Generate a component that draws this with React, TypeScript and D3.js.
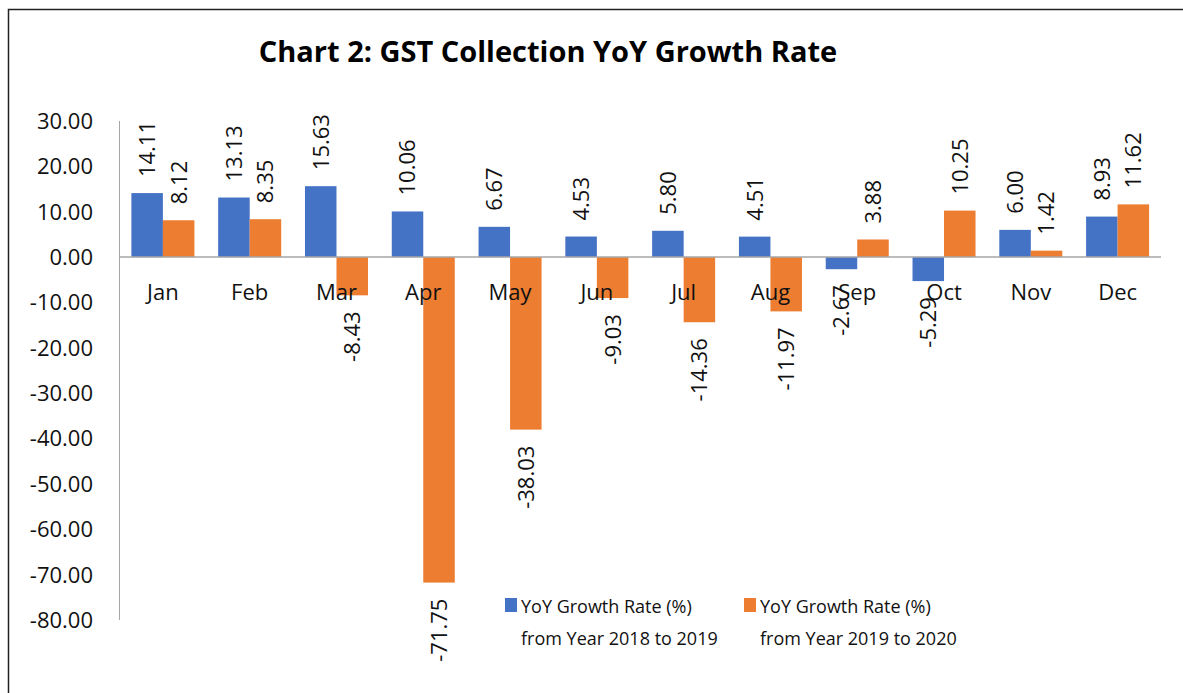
import React, { useEffect, useRef } from "react";
import * as d3 from "d3";

const months = ["Jan", "Feb", "Mar", "Apr", "May", "Jun", "Jul", "Aug", "Sep", "Oct", "Nov", "Dec"];
const growth2018to2019 = [14.11, 13.13, 15.63, 10.06, 6.67, 4.53, 5.8, 4.51, -2.67, -5.29, 6.0, 8.93];
const growth2019to2020 = [8.12, 8.35, -8.43, -71.75, -38.03, -9.03, -14.36, -11.97, 3.88, 10.25, 1.42, 11.62];
const yTicks = [30, 20, 10, 0, -10, -20, -30, -40, -50, -60, -70, -80];
const seriesNames = [
  ["YoY Growth Rate (%)", "from Year 2018 to 2019"],
  ["YoY Growth Rate (%)", "from Year 2019 to 2020"],
];
const seriesColors = ["#4472C4", "#ED7D31"];

const FONT = "'Open Sans', 'Noto Sans', sans-serif";

// plain hyphen minus, like the source
const fmt = (v: number) => v.toFixed(2);

const App = () => {
  const container = useRef<SVGSVGElement | null>(null);

  useEffect(() => {
    drawChart();
  });

  const drawChart = () => {
    const width = 1183;
    const height = 693;
    const plot = { l: 119.5, r: 1161, t: 121, b: 620 };
    const labelGap = 16;

    const svg = d3.select(container.current).attr("width", width).attr("height", height);
    svg.selectAll("*").remove();

    // outer frame (runs off the right/bottom edge in the reference)
    svg
      .append("rect")
      .attr("x", 8.5)
      .attr("y", 9.5)
      .attr("width", width + 20)
      .attr("height", height + 20)
      .attr("fill", "white")
      .attr("stroke", "#222")
      .attr("stroke-width", 1.5);

    svg
      .append("text")
      .attr("x", 548)
      .attr("y", 62)
      .attr("text-anchor", "middle")
      .style("font-family", FONT)
      .style("font-weight", "bold")
      .style("font-size", "29px")
      .text("Chart 2: GST Collection YoY Growth Rate");

    const xScale = d3
      .scaleBand()
      .domain(months)
      .range([plot.l, plot.r])
      .paddingInner(0.274)
      .paddingOuter(0.137);

    const xSeries = d3
      .scaleBand()
      .domain(["0", "1"])
      .range([0, xScale.bandwidth()]);

    const yScale = d3.scaleLinear().domain([-80, 30]).range([plot.b, plot.t]);

    // y tick labels
    svg
      .selectAll(".ytick")
      .data(yTicks)
      .join("text")
      .attr("class", "ytick")
      .attr("x", 93)
      .attr("y", (d) => yScale(d))
      .attr("dy", "0.36em")
      .attr("text-anchor", "end")
      .style("font-family", FONT)
      .style("font-size", "22px")
      .style("fill", "#111")
      .text((d) => fmt(d));

    // bars
    const series = [growth2018to2019, growth2019to2020];
    const rows = months.flatMap((m, i) =>
      series.map((s, k) => ({ month: m, k, val: s[i] }))
    );

    svg
      .selectAll(".bar")
      .data(rows)
      .join("rect")
      .attr("class", "bar")
      .attr("x", (d) => (xScale(d.month) as number) + (xSeries(String(d.k)) as number))
      .attr("width", xSeries.bandwidth())
      .attr("y", (d) => yScale(Math.max(0, d.val)))
      .attr("height", (d) => Math.abs(yScale(d.val) - yScale(0)))
      .attr("fill", (d) => seriesColors[d.k]);

    // axes lines
    svg
      .append("line")
      .attr("x1", plot.l)
      .attr("x2", plot.l)
      .attr("y1", plot.t)
      .attr("y2", plot.b)
      .attr("stroke", "#a6a6a6")
      .attr("stroke-width", 1);

    svg
      .append("line")
      .attr("x1", plot.l)
      .attr("x2", plot.r)
      .attr("y1", yScale(0))
      .attr("y2", yScale(0))
      .attr("stroke", "#a6a6a6")
      .attr("stroke-width", 1.5);

    // month labels
    svg
      .selectAll(".xlabel")
      .data(months)
      .join("text")
      .attr("class", "xlabel")
      .attr("x", (d) => (xScale(d) as number) + xScale.bandwidth() / 2)
      .attr("y", 300)
      .attr("text-anchor", "middle")
      .style("font-family", FONT)
      .style("font-size", "22px")
      .style("fill", "#111")
      .text((d) => d);

    // data labels, rotated
    svg
      .selectAll(".dlabel")
      .data(rows)
      .join("text")
      .attr("class", "dlabel")
      .attr("transform", (d) => {
        const cx = (xScale(d.month) as number) + (xSeries(String(d.k)) as number) + xSeries.bandwidth() / 2;
        const y = d.val >= 0 ? yScale(d.val) - labelGap : yScale(d.val) + labelGap;
        return `translate(${cx},${y}) rotate(-90)`;
      })
      .attr("dy", "0.36em")
      .attr("text-anchor", (d) => (d.val >= 0 ? "start" : "end"))
      .style("font-family", FONT)
      .style("font-size", "22px")
      .style("fill", "#111")
      .text((d) => fmt(d.val));

    // legend
    const legendX = [505, 744];
    const legend = svg
      .selectAll(".legend")
      .data(seriesNames)
      .join("g")
      .attr("class", "legend")
      .attr("transform", (d, i) => `translate(${legendX[i]},598)`);

    legend
      .append("rect")
      .attr("width", 12)
      .attr("height", 14)
      .attr("fill", (d, i) => seriesColors[i]);

    legend
      .append("text")
      .attr("y", 15)
      .style("font-family", FONT)
      .style("font-size", "18px")
      .style("fill", "#111")
      .selectAll("tspan")
      .data((d) => d)
      .join("tspan")
      .attr("x", 16)
      .attr("dy", (d, j) => (j === 0 ? 0 : 32))
      .text((d) => d);
  };

  return (
    <svg
      ref={container}
      style={{ position: "fixed", left: 0, top: 0, display: "block" }}
    ></svg>
  );
};

export default App;
